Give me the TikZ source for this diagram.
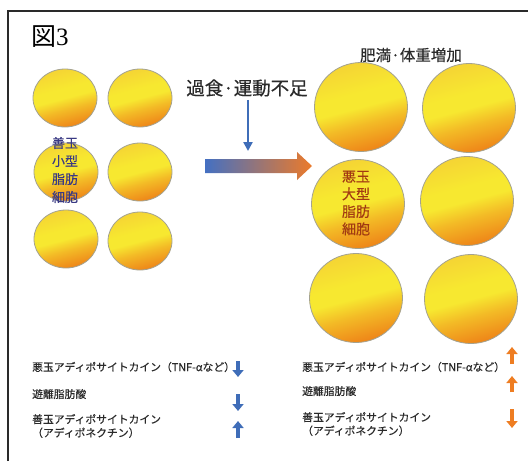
\documentclass[tikz,border=0pt]{standalone}
\usepackage{fontspec}
\setmainfont{Liberation Serif}
\newfontfamily\jp{Noto Sans CJK JP}
\newfontfamily\jpm{Noto Sans CJK JP}[FakeBold=0.4]
\usetikzlibrary{arrows.meta,shapes.geometric}

\definecolor{cellrim}{HTML}{A4A290}
\definecolor{cellbot}{HTML}{EE8418}
\definecolor{cellmid}{HTML}{F3BA26}
\definecolor{cellband}{HTML}{F7E830}
\definecolor{celltop}{HTML}{F5D434}
\definecolor{goodtxt}{HTML}{3A3A84}
\definecolor{badtxt}{HTML}{A23A12}
\definecolor{downblue}{HTML}{3F6DB8}
\definecolor{uporange}{HTML}{EE7D22}
\definecolor{flowblue}{HTML}{4470C2}
\definecolor{flowmid}{HTML}{AC6F8C}
\definecolor{floworange}{HTML}{EC7A2A}
\definecolor{ink}{HTML}{2A2A2A}

% fat cell fill: orange at the bottom, a bright yellow band across the middle
\pgfdeclareverticalshading{cellfill}{100bp}{%
  color(0bp)=(cellbot); color(25bp)=(cellbot); color(40bp)=(cellmid);
  color(50bp)=(cellband); color(58bp)=(cellband); color(75bp)=(celltop);
  color(100bp)=(celltop)}

\begin{document}
\begin{tikzpicture}[x=1pt,y=-1pt,
  cell/.style={ellipse, draw=cellrim, line width=0.8pt, shading=cellfill,
    shading angle=15, inner sep=0pt},
  smallcell/.style={cell, minimum width=64pt, minimum height=58pt},
  bigcell/.style={cell, minimum width=93pt, minimum height=89pt},
  celltext/.style={align=center, inner sep=0pt},
  heading/.style={font=\jpm\fontsize{#1}{20}\selectfont, text=ink, inner sep=0pt},
  effect/.style={anchor=west, align=left, inner sep=0pt,
    font=\jpm\fontsize{10.8}{13.5}\selectfont, text=ink},
  change/.style={line width=3.6pt, -{Triangle[width=11pt,length=7pt]}},
]
\useasboundingbox (0,0) rectangle (528,461);
\fill[white] (0,0) rectangle (528,461);

% frame
\draw[ink, line width=1.4pt] (8,461) -- (8,11) -- (528,11);

% figure number
\node[anchor=west, inner sep=0pt] (fignum) at (31,37)
  {\fontsize{25}{25}\selectfont\jp 図\rmfamily 3};

% small (healthy) fat cells
\node[smallcell] (s1) at (65,98) {};
\node[smallcell] (s2) at (140,98) {};
\node[smallcell] (s3) at (66,172) {};
\node[smallcell] (s4) at (140,172) {};
\node[smallcell] (s5) at (66,239) {};
\node[smallcell] (s6) at (140,241) {};
\node[celltext, text=goodtxt, font=\jpm\fontsize{13}{18}\selectfont]
  (goodlabel) at (65,170) {善玉\\小型\\脂肪\\細胞};

% large (unhealthy) fat cells
\node[bigcell] (b1) at (361,107) {};
\node[bigcell] (b2) at (469,108) {};
\node[bigcell] (b3) at (358,204) {};
\node[bigcell] (b4) at (467,201) {};
\node[bigcell] (b5) at (356,298) {};
\node[bigcell] (b6) at (471,299) {};
\node[celltext, text=badtxt, font=\jpm\fontsize{14}{17.5}\selectfont]
  (badlabel) at (356,203) {悪玉\\大型\\脂肪\\細胞};

% cause and result
\node[heading=18.5] (cause) at (247,88) {過食·運動不足};
\node[heading=15.5] (result) at (411,55) {肥満·体重増加};

% transition arrow
\coordinate (dropend) at (248,151);
\draw[downblue, line width=2.4pt, -{Triangle[width=9pt,length=9pt]}]
  (cause.south -| dropend) ++(0,3) -- (dropend);
\shade[left color=flowblue, middle color=flowmid, right color=floworange]
  (205,159) -- (297,159) -- (297,152) -- (312,166) -- (297,180)
  -- (297,173) -- (205,173) -- cycle;

% effects, small cells
\node[effect] (l1) at (32,367) {悪玉アディポサイトカイン（TNF-αなど）};
\node[effect] (l2) at (32,394) {遊離脂肪酸};
\node[effect] (l3) at (32,426) {善玉アディポサイトカイン\\（アディポネクチン）};
\coordinate (la1) at (238,361); \coordinate (lb1) at (238,377);
\coordinate (la2) at (238,394); \coordinate (lb2) at (238,411);
\coordinate (la3) at (238,438); \coordinate (lb3) at (238,421);
\draw[change, downblue] (la1) -- (lb1);
\draw[change, downblue] (la2) -- (lb2);
\draw[change, downblue] (la3) -- (lb3);

% effects, large cells
\node[effect] (r1) at (302,367) {悪玉アディポサイトカイン（TNF-αなど）};
\node[effect] (r2) at (302,391) {遊離脂肪酸};
\node[effect] (r3) at (302,424) {善玉アディポサイトカイン\\（アディポネクチン）};
\coordinate (ra1) at (512,364); \coordinate (rb1) at (512,347);
\coordinate (ra2) at (512,392); \coordinate (rb2) at (512,376);
\coordinate (ra3) at (512,409); \coordinate (rb3) at (512,428);
\draw[change, uporange] (ra1) -- (rb1);
\draw[change, uporange] (ra2) -- (rb2);
\draw[change, uporange] (ra3) -- (rb3);
\end{tikzpicture}
\end{document}
